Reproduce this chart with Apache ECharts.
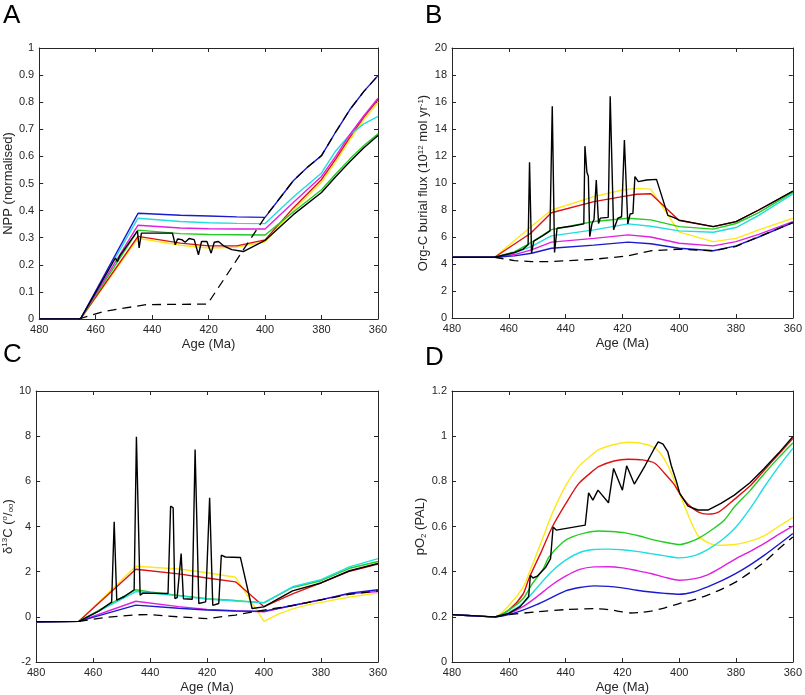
<!DOCTYPE html>
<html><head><meta charset="utf-8">
<script src="https://cdn.jsdelivr.net/npm/echarts@6/dist/echarts.min.js"></script>
<style>html,body{margin:0;padding:0;background:#fff}#c{width:805px;height:695px}</style>
</head><body><div id="c"></div>
<script>
// ---------- DATA (age Ma, value) ----------
const panelLetters = ['A','B','C','D'];
const xName = 'Age (Ma)';
// Panel A: NPP (normalised)
const A_yellow = [[480,0],[465.4,0],[445,0.298],[430,0.272],[420,0.262],[410,0.265],[400,0.285],[390,0.40],[380,0.505],[375,0.58],[370,0.66],[365,0.735],[360,0.80]];
const A_red = [[480,0],[465.4,0],[445,0.305],[430,0.28],[420,0.27],[410,0.27],[400,0.292],[390,0.41],[380,0.515],[375,0.59],[370,0.67],[365,0.745],[360,0.81]];
const A_green = [[480,0],[465.4,0],[445,0.328],[430,0.315],[420,0.312],[410,0.311],[400,0.31],[390,0.395],[380,0.477],[375,0.535],[370,0.59],[365,0.64],[360,0.683]];
const A_cyan = [[480,0],[465.4,0],[445,0.372],[430,0.36],[420,0.355],[410,0.353],[400,0.352],[390,0.45],[380,0.539],[375,0.62],[370,0.68],[365,0.72],[360,0.748]];
const A_magenta = [[480,0],[465.4,0],[445,0.346],[430,0.336],[420,0.333],[410,0.332],[400,0.332],[390,0.43],[380,0.526],[375,0.6],[370,0.68],[365,0.75],[360,0.815]];
const A_blue = [[480,0],[465.4,0],[445,0.39],[430,0.383],[420,0.38],[410,0.377],[400,0.375],[390,0.51],[385,0.56],[380,0.603],[375,0.69],[370,0.772],[365,0.84],[360,0.898]];
const A_dashed = [[466,0],[457,0.028],[450,0.04],[442,0.053],[420.4,0.055],[400,0.376],[390,0.51],[385,0.56],[380,0.603],[375,0.69],[370,0.772],[365,0.84],[360,0.898]];
const A_black = [[480,0],[465.4,0],[453,0.225],[452.3,0.212],[451.5,0.232],[445.2,0.325],[444.6,0.262],[443.8,0.317],[432.8,0.317],[431.8,0.274],[431,0.295],[429.5,0.293],[428.3,0.283],[426.9,0.297],[425.1,0.293],[423.6,0.237],[422.5,0.286],[420.6,0.286],[419.1,0.243],[418,0.283],[416.5,0.286],[414.7,0.27],[411.8,0.256],[407.7,0.249],[400,0.29],[390,0.385],[380,0.467],[375,0.525],[370,0.58],[365,0.632],[360,0.677]];
// Panel B: Org-C burial flux
const B_yellow = [[480,4.5],[465,4.5],[452,6.8],[445,8.0],[430,8.99],[420,9.48],[415,9.6],[410,9.55],[400,6.36],[388,5.66],[380,5.9],[372,6.53],[360,7.39]];
const B_red = [[480,4.5],[465,4.5],[452.3,6.28],[445,7.8],[430,8.62],[420,8.99],[415,9.17],[410,9.2],[400,7.22],[388,6.77],[380,7.14],[372,8.0],[360,9.36]];
const B_green = [[480,4.5],[465,4.5],[458,4.9],[452,5.6],[445,6.55],[430,7.15],[418,7.39],[410,7.27],[400,6.77],[388,6.58],[380,7.0],[372,7.8],[360,9.3]];
const B_cyan = [[480,4.5],[465,4.5],[458,4.8],[452,5.3],[445,6.08],[430,6.53],[418,6.97],[410,6.8],[400,6.45],[388,6.35],[380,6.7],[372,7.6],[360,9.2]];
const B_magenta = [[480,4.5],[465,4.5],[458,4.7],[452,5.05],[445,5.62],[430,5.9],[418,6.16],[410,6.0],[400,5.54],[388,5.34],[380,5.66],[372,6.2],[360,7.14]];
const B_blue = [[480,4.5],[465,4.5],[458,4.6],[452,4.8],[445,5.17],[430,5.4],[418,5.62],[410,5.5],[400,5.17],[388,4.98],[380,5.34],[372,6.0],[360,7.06]];
const B_dashed = [[465,4.5],[458,4.25],[452,4.18],[445,4.18],[430,4.35],[418,4.6],[410,4.98],[400,5.1],[388,4.98],[380,5.3],[370,6.2],[360,7.06]];
const B_black = [[480,4.5],[465,4.5],[458,4.85],[455,5.1],[453.2,5.42],[452.7,11.53],[452,4.8],[451.2,5.7],[448,6.1],[445.5,6.45],[444.7,15.69],[443.9,4.85],[443,6.65],[438,6.8],[433.6,6.97],[433.2,12.73],[432.5,10.8],[432,10.5],[431.5,6.03],[430.7,7.0],[430,7.3],[429.2,10.22],[428.4,7.0],[427.8,7.4],[425,7.45],[424.3,16.43],[423.1,6.53],[421.6,7.39],[420.3,7.5],[419.3,13.18],[418.1,6.97],[417.3,7.7],[416.3,7.75],[415.6,10.47],[414.4,10.1],[411.5,10.22],[408,10.27],[404,7.6],[402,7.45],[400,7.25],[388,6.77],[380,7.14],[372,8.0],[360,9.4]];
// Panel C: d13C
const C_yellow = [[480,-0.22],[465,-0.2],[445,2.24],[430,2.12],[420,1.95],[410,1.75],[400,-0.2],[395,0.12],[390,0.35],[385,0.52],[380,0.64],[370,0.88],[360,1.05]];
const C_red = [[480,-0.22],[465,-0.2],[445,2.11],[430,1.9],[420,1.72],[410,1.55],[400,0.45],[390,1.02],[380,1.5],[370,2.02],[360,2.34]];
const C_green = [[480,-0.22],[465,-0.2],[455,0.5],[445,1.2],[440,1.1],[430,0.95],[420,0.8],[410,0.72],[400,0.63],[390,1.3],[380,1.6],[370,2.15],[360,2.45]];
const C_cyan = [[480,-0.22],[465,-0.2],[455,0.45],[445,1.12],[430,0.93],[420,0.79],[410,0.7],[400,0.62],[390,1.33],[380,1.65],[370,2.21],[360,2.58]];
const C_magenta = [[480,-0.22],[465,-0.2],[445,0.69],[430,0.45],[420,0.33],[410,0.27],[400,0.22],[390,0.5],[380,0.76],[370,1.02],[360,1.12]];
const C_blue = [[480,-0.22],[465,-0.2],[445,0.52],[430,0.38],[420,0.3],[410,0.26],[400,0.25],[390,0.5],[380,0.75],[370,1.05],[360,1.2]];
const C_dashed = [[465,-0.2],[455,-0.02],[445,0.09],[440,0.1],[430,0.0],[420,-0.08],[410,0.08],[400,0.3],[390,0.5],[380,0.75],[370,1.0],[360,1.15]];
const C_black = [[480,-0.22],[465,-0.2],[458,0.25],[453.5,0.65],[452.6,4.21],[451.7,0.74],[449,0.9],[445.6,1.2],[444.8,7.97],[443.5,0.96],[442.5,1.05],[433.7,1.03],[432.8,4.9],[431.9,4.83],[431.3,0.81],[430.5,0.85],[429.1,2.8],[428.3,0.8],[425.2,0.78],[424.2,7.41],[422.9,0.59],[420.5,0.66],[419.1,5.27],[418,0.51],[415.9,0.59],[415,2.73],[413.6,2.65],[408.3,2.63],[404.2,0.37],[400.1,0.44],[390,1.15],[380,1.5],[370,2.04],[360,2.36]];
// Panel D: pO2
const D_yellow = [[480,0.21],[470,0.203],[465,0.2],[460,0.25],[455,0.33],[452.9,0.392],[448,0.55],[444.7,0.658],[440,0.78],[435.4,0.865],[430,0.925],[428.4,0.94],[424,0.96],[418,0.973],[414,0.97],[409.8,0.956],[407,0.93],[404,0.87],[400,0.75],[396.5,0.64],[393.4,0.56],[390,0.53],[386.5,0.517],[380.6,0.52],[375,0.535],[370,0.56],[365,0.6],[360,0.64]];
const D_red = [[480,0.21],[470,0.203],[465,0.2],[460,0.23],[455,0.3],[452.9,0.37],[448.5,0.49],[444.7,0.598],[440,0.7],[435.4,0.79],[430,0.85],[428.4,0.865],[423,0.89],[418,0.898],[413,0.895],[408.6,0.88],[405.1,0.835],[402,0.79],[400,0.75],[397,0.7],[393.4,0.665],[390,0.655],[386,0.665],[380.6,0.72],[375,0.78],[370,0.85],[365,0.92],[360,0.99]];
const D_green = [[480,0.21],[470,0.203],[465,0.2],[460,0.23],[455,0.28],[451.7,0.347],[448,0.41],[445.9,0.464],[441,0.53],[437.7,0.554],[433,0.572],[428.4,0.58],[424,0.578],[419,0.572],[414,0.558],[409.8,0.543],[405,0.53],[400,0.52],[397,0.528],[393.4,0.546],[388,0.59],[384,0.63],[380.6,0.686],[375,0.76],[370,0.835],[365,0.905],[360,0.97]];
const D_cyan = [[480,0.21],[470,0.203],[465,0.2],[460,0.22],[455,0.26],[450,0.33],[445,0.4],[440,0.451],[435,0.485],[430,0.498],[425,0.5],[420,0.497],[415,0.49],[410,0.48],[405,0.47],[400,0.461],[395,0.47],[390,0.498],[385,0.54],[380,0.598],[375,0.68],[370,0.776],[365,0.865],[360,0.946]];
const D_magenta = [[480,0.21],[470,0.203],[465,0.2],[460,0.215],[455,0.245],[450,0.29],[445,0.34],[440,0.38],[435,0.41],[430,0.421],[425,0.422],[420,0.417],[415,0.405],[410,0.392],[405,0.375],[400,0.362],[395,0.368],[390,0.386],[385,0.42],[380,0.458],[375,0.49],[370,0.525],[365,0.565],[360,0.602]];
const D_blue = [[480,0.21],[470,0.203],[465,0.2],[460,0.21],[455,0.23],[450,0.255],[445,0.285],[440,0.315],[435,0.33],[430,0.337],[425,0.335],[420,0.328],[415,0.318],[410,0.31],[405,0.304],[400,0.3],[395,0.31],[390,0.333],[385,0.36],[380,0.392],[375,0.43],[370,0.473],[365,0.52],[360,0.569]];
const D_dashed = [[465,0.2],[460,0.21],[450,0.222],[440,0.232],[430,0.236],[425,0.232],[420,0.222],[417,0.217],[413,0.22],[410,0.225],[405,0.24],[400,0.259],[395,0.275],[390,0.296],[385,0.323],[380,0.355],[375,0.397],[370,0.443],[365,0.5],[360,0.554]];
const D_black = [[480,0.21],[465,0.2],[460,0.215],[456,0.245],[453,0.29],[452.4,0.384],[451.5,0.372],[450,0.38],[447,0.42],[445.3,0.458],[444.4,0.598],[443.3,0.584],[433.1,0.606],[431.9,0.749],[430.4,0.717],[428.6,0.761],[424.9,0.705],[423.1,0.857],[420,0.761],[418.5,0.869],[415.8,0.788],[412,0.87],[409,0.94],[407.4,0.975],[405.7,0.965],[404,0.93],[402.8,0.87],[401,0.8],[399.8,0.746],[396.9,0.69],[393.4,0.673],[389.9,0.673],[385.3,0.702],[380.6,0.739],[375,0.795],[370.1,0.857],[365,0.925],[360,0.998]];

const yRanges = [[0,1,0.1],[0,20,2],[-2,10,2],[0,1.2,0.2]];
const yNames = ['NPP (normalised)','Org-C burial flux (10{sup|12} mol yr{sup|-1})','δ{sup|13}C ({sup|o}/{sub|oo})','pO{sub|2} (PAL)'];

// ---------- CHART ----------
const FONT = '"Liberation Sans", Arial, sans-serif';
const AX = '#262626';
const grids = [
  {left:35, top:48, width:343, height:271},
  {left:452, top:48, width:344, height:270},
  {left:35, top:391, width:343, height:271},
  {left:452, top:391, width:344, height:271}
];
const colors = {yellow:'#ffe81a', red:'#dd1111', green:'#22cc22', cyan:'#22dddd', magenta:'#e020e0', blue:'#1a1acc', black:'#000000'};
const panels = [
  {yellow:A_yellow, red:A_red, green:A_green, cyan:A_cyan, magenta:A_magenta, blue:A_blue, dashed:A_dashed, black:A_black, smooth:false},
  {yellow:B_yellow, red:B_red, green:B_green, cyan:B_cyan, magenta:B_magenta, blue:B_blue, dashed:B_dashed, black:B_black, smooth:false},
  {yellow:C_yellow, red:C_red, green:C_green, cyan:C_cyan, magenta:C_magenta, blue:C_blue, dashed:C_dashed, black:C_black, smooth:false},
  {yellow:D_yellow, red:D_red, green:D_green, cyan:D_cyan, magenta:D_magenta, blue:D_blue, dashed:D_dashed, black:D_black, smooth:true}
];
const axLine = {show:true, onZero:false, lineStyle:{color:AX, width:1}};
const axTick = {show:true, inside:true, length:4, lineStyle:{color:AX, width:1}};
const rich = {
  sup:{fontSize:8, verticalAlign:'top', lineHeight:14, fontFamily:FONT, color:AX},
  sub:{fontSize:8, verticalAlign:'bottom', lineHeight:14, fontFamily:FONT, color:AX}
};
const fmt = v => String(Math.round(v*10)/10);

const xAxis = [], yAxis = [], series = [];
grids.forEach((g,i) => {
  xAxis.push({gridIndex:i, type:'value', min:360, max:480, interval:20, inverse:true, position:'bottom',
    axisLine:axLine, axisTick:axTick, splitLine:{show:false},
    axisLabel:{color:AX, fontSize:11, fontFamily:FONT, margin:5},
    name:xName, nameLocation:'middle', nameGap:19, nameTextStyle:{color:AX, fontSize:13, fontFamily:FONT}});
  xAxis.push({gridIndex:i, type:'value', min:360, max:480, interval:20, inverse:true, position:'top',
    axisLine:axLine, axisTick:axTick, splitLine:{show:false}, axisLabel:{show:false}});
  const r = yRanges[i];
  yAxis.push({gridIndex:i, type:'value', min:r[0], max:r[1], interval:r[2], position:'left',
    axisLine:axLine, axisTick:axTick, splitLine:{show:false},
    axisLabel:{color:AX, fontSize:11, fontFamily:FONT, margin:5, formatter:fmt},
    name:yNames[i], nameLocation:'middle', nameGap: (i===1?20:(i===3?21:19)),
    nameTextStyle:{color:AX, fontSize:13, fontFamily:FONT, lineHeight:14, rich:rich}});
  yAxis.push({gridIndex:i, type:'value', min:r[0], max:r[1], interval:r[2], position:'right',
    axisLine:axLine, axisTick:axTick, splitLine:{show:false}, axisLabel:{show:false}});
  const p = panels[i];
  ['yellow','red','green','cyan','magenta','blue'].forEach(k => {
    series.push({type:'line', xAxisIndex:2*i, yAxisIndex:2*i, data:p[k], showSymbol:false, symbol:'none',
      smooth: p.smooth ? 0.25 : false, lineStyle:{color:colors[k], width:1.4}, silent:true});
  });
  series.push({type:'line', xAxisIndex:2*i, yAxisIndex:2*i, data:p.dashed, showSymbol:false, symbol:'none',
    smooth: p.smooth ? 0.25 : false, lineStyle:{color:'#000', width:1.3, type:[9,6]}, silent:true});
  series.push({type:'line', xAxisIndex:2*i, yAxisIndex:2*i, data:p.black, showSymbol:false, symbol:'none',
    smooth:false, lineStyle:{color:'#000', width:1.4}, silent:true});
});

const letterPos = [[3,3],[425,3],[3,342],[425,345]];
const graphic = panelLetters.map((t,i) => ({type:'text', left:letterPos[i][0], top:letterPos[i][1],
  style:{text:t, fontSize:26, fontFamily:FONT, fill:'#000'}}));

const chart = echarts.init(document.getElementById('c'), null, {renderer:'canvas'});
chart.setOption({animation:false, backgroundColor:'#fff', grid:grids, xAxis, yAxis, series, graphic});
</script></body></html>
